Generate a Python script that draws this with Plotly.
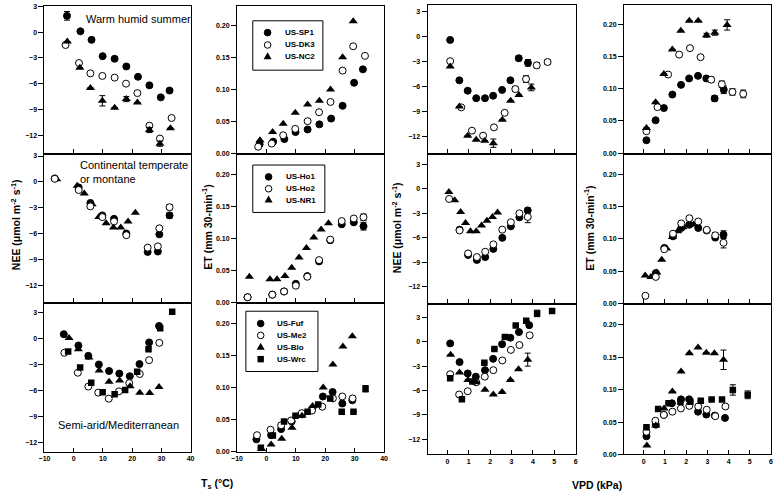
import plotly.graph_objects as go

# ---------------- data ----------------
# Row 1 - Warm humid summer : US-SP1 (filled circle), US-DK3 (open circle), US-NC2 (triangle)
sp1_ts = [-2.3, 2.3, 6.1, 9.9, 14.0, 18.0, 22.0, 25.9, 29.8, 32.8]
sp1_ts_nee = [1.9, 0.1, -0.9, -2.8, -3.1, -4.0, -5.2, -6.2, -7.6, -6.8]
sp1_ts_nee_err = [0.5, 0, 0, 0, 0, 0, 0, 0, 0, 0]
sp1_ts_et = [0.014, 0.018, 0.022, 0.033, 0.037, 0.045, 0.054, 0.074, 0.110, 0.131]
dk3_ts = [-2.8, 1.8, 5.7, 9.8, 14.0, 17.9, 21.8, 25.9, 29.5, 33.5]
dk3_ts_nee = [-1.5, -3.6, -4.8, -5.1, -5.3, -6.0, -7.1, -10.9, -12.4, -10.0]
dk3_ts_et = [0.010, 0.015, 0.028, 0.038, 0.050, 0.064, 0.080, 0.129, 0.167, 0.152]
nc2_ts = [-2.2, 2.1, 5.7, 9.8, 14.0, 18.0, 21.8, 25.9, 29.5, 33.1]
nc2_ts_nee = [-1.1, -4.15, -6.5, -8.0, -8.8, -7.8, -8.2, -11.4, -13.0, -11.2]
nc2_ts_nee_err = [0, 0, 0, 0.6, 0, 0.3, 0, 0.3, 0.3, 0]
nc2_ts_et = [0.020, 0.033, 0.046, 0.063, 0.076, 0.082, 0.0995, 0.150, 0.206, None]

sp1_vpd = [0.13, 0.56, 0.95, 1.35, 1.76, 2.14, 2.56, 2.95, 3.34, 3.77]
sp1_vpd_nee = [-0.4, -5.25, -6.5, -7.4, -7.4, -7.1, -6.4, -5.25, -2.6, -3.15]
sp1_vpd_nee_err = [0, 0, 0, 0, 0, 0, 0, 0, 0.3, 0.4]
sp1_vpd_et = [0.020, 0.051, 0.070, 0.091, 0.106, 0.116, 0.120, 0.116, 0.085, 0.0985]
sp1_vpd_et_err = [0, 0, 0, 0, 0, 0, 0, 0, 0.004, 0.006]
dk3_vpd = [0.13, 0.65, 1.15, 1.67, 2.18, 2.68, 3.18, 3.68, 4.18, 4.69]
dk3_vpd_nee = [-2.95, -8.5, -11.3, -11.9, -10.9, -9.15, -6.3, -5.1, -3.45, -3.05]
dk3_vpd_nee_err = [0, 0, 0, 0, 0, 0, 0.3, 0.4, 0.3, 0.3]
dk3_vpd_et = [0.034, 0.0715, 0.122, 0.153, 0.163, 0.149, 0.114, 0.107, 0.095, 0.092]
dk3_vpd_et_err = [0, 0, 0, 0, 0, 0, 0.004, 0.005, 0.005, 0.006]
nc2_vpd = [0.13, 0.56, 0.95, 1.35, 1.75, 2.15, 2.57, 2.96, 3.35, 3.93]
nc2_vpd_nee = [-3.6, -8.4, -11.9, -12.4, -12.5, -12.8, -10.0, -7.7, -7.0, -6.1]
nc2_vpd_nee_err = [0, 0, 0, 0, 0, 0.5, 0, 0, 0, 0.4]
nc2_vpd_et = [0.039, 0.079, 0.123, 0.161, 0.190, 0.2056, 0.2056, 0.183, 0.187, 0.199]
nc2_vpd_et_err = [0, 0, 0, 0, 0, 0, 0, 0.003, 0.004, 0.008]

# Row 2 - Continental temperate or montane : US-Ho1, US-Ho2, US-NR1
ho_ts_nee_x = [-6.5, 1.7, 5.7, 9.8, 13.8, 18.0, 25.3, 28.8, 29.3, 32.8]
ho1_ts_nee = [0.4, -0.65, -2.45, -3.9, -4.3, -6.0, -8.15, -8.1, -6.1, -3.9]
ho1_ts_nee_err = [0, 0, 0, 0, 0, 0, 0, 0, 0, 0.3]
ho2_ts_nee = [0.35, -0.95, -2.85, -4.1, -4.6, -6.2, -7.65, -7.5, -5.4, -2.95]
ho2_ts_nee_err = [0, 0, 0, 0, 0, 0, 0, 0, 0, 0.3]
ho_ts_et_x = [-6.4, 2.0, 6.0, 10.0, 13.9, 17.9, 21.7, 25.6, 29.7, 33.0]
ho1_ts_et = [0.008, 0.012, 0.017, 0.029, 0.041, 0.064, 0.097, 0.122, 0.125, 0.119]
ho1_ts_et_err = [0, 0, 0, 0, 0, 0, 0, 0, 0, 0.006]
ho2_ts_et = [0.008, 0.012, 0.017, 0.026, 0.040, 0.066, 0.098, 0.127, 0.131, 0.133]
ho2_ts_et_err = [0, 0, 0, 0, 0, 0, 0, 0, 0, 0.005]
nr1_ts = [-5.8, 1.2, 3.6, 6.3, 8.6, 11.1, 13.6, 16.1, 18.6, 21.1]
nr1_ts_nee = [0.3, -0.45, -1.35, -2.6, -4.1, -4.8, -5.3, -5.3, -4.6, -3.6]
nr1_ts_et = [0.040, 0.036, 0.036, 0.041, 0.054, 0.070, 0.085, 0.1015, 0.114, 0.1236]

ho1_vpd = [0.57, 0.97, 1.38, 1.77, 2.15, 2.57, 2.97, 3.37, 3.76]
ho1_vpd_nee = [-5.0, -8.1, -8.7, -8.35, -7.35, -6.0, -4.6, -3.5, -2.65]
ho1_vpd_nee_err = [0, 0, 0, 0, 0, 0, 0, 0, 0.3]
ho1_vpd_et = [0.047, 0.086, 0.104, 0.117, 0.122, 0.117, 0.113, 0.102, 0.1066]
ho1_vpd_et_err = [0, 0, 0, 0, 0, 0, 0, 0, 0.006]
ho2_vpd = [0.08, 0.57, 0.97, 1.38, 1.77, 2.15, 2.57, 2.97, 3.37, 3.76]
ho2_vpd_nee = [-1.25, -5.1, -7.9, -8.35, -7.7, -6.8, -5.0, -4.1, -3.0, -3.45]
ho2_vpd_nee_err = [0, 0, 0, 0, 0, 0, 0, 0, 0, 0.7]
ho2_vpd_et = [0.0117, 0.041, 0.084, 0.108, 0.124, 0.132, 0.127, 0.114, 0.1056, 0.094]
ho2_vpd_et_err = [0, 0, 0, 0, 0, 0, 0, 0, 0.004, 0.008]
nr1_vpd = [0.07, 0.34, 0.62, 0.85, 1.08, 1.35, 1.6, 1.85, 2.11, 2.35]
nr1_vpd_nee = [-0.4, -1.4, -2.85, -4.2, -5.2, -5.2, -4.5, -3.9, -3.45, -2.9]
nr1_vpd_et = [0.043, 0.041, 0.048, 0.0675, 0.085, 0.103, 0.112, 0.118, 0.122, 0.1223]

# Row 3 - Semi-arid/Mediterranean : US-Fuf, US-Me2, US-Blo, US-Wrc (square)
fuf_ts = [-3.4, 1.6, 5.0, 8.6, 12.1, 15.6, 19.2, 22.5, 25.8, 29.2]
fuf_ts_nee = [0.55, -0.75, -1.95, -2.95, -3.7, -4.0, -4.3, -2.9, -0.4, 1.5]
fuf_ts_et = [0.019, 0.0255, 0.035, 0.047, 0.058, 0.067, 0.086, 0.093, 0.075, 0.080]
me2_ts = [-3.2, 1.4, 5.0, 8.4, 12.0, 15.5, 19.0, 22.6, 25.8, 29.3]
me2_ts_nee = [-1.6, -3.9, -5.5, -6.2, -6.9, -6.05, -5.1, -4.05, -2.45, -0.45]
me2_ts_et = [0.0255, 0.034, 0.041, 0.0485, 0.060, 0.064, 0.070, 0.083, 0.086, 0.083]
blo_ts = [-1.6, 1.6, 5.2, 8.7, 12.1, 15.7, 19.3, 22.6, 26.0, 29.2]
blo_ts_nee = [0.1, -1.2, -2.15, -3.65, -4.95, -4.8, -5.45, -6.2, -6.25, -5.55]
blo_ts_et = [0.004, 0.011, 0.020, 0.037, 0.056, 0.071, 0.100, 0.136, 0.164, 0.180]
wrc_ts = [-1.9, 2.2, 6.0, 9.9, 14.0, 17.6, 21.7, 25.6, 29.6, 33.7]
wrc_ts_nee = [-1.45, -3.3, -5.05, -6.15, -6.4, -5.9, -3.8, -1.2, 1.25, 3.15]
wrc_ts_et = [0.006, 0.025, 0.047, 0.056, 0.062, 0.0735, 0.083, 0.062, 0.062, 0.098]
wrc_ts_et_err = [0, 0, 0, 0, 0, 0, 0, 0, 0, 0.005]

fuf_vpd = [0.13, 0.57, 0.95, 1.33, 1.76, 2.14, 2.56, 2.95, 3.35, 3.83]
fuf_vpd_nee = [-0.2, -2.5, -3.9, -4.3, -3.5, -2.1, -0.3, 0.5, 1.2, 2.05]
fuf_vpd_et = [0.028, 0.046, 0.061, 0.079, 0.085, 0.085, 0.066, 0.0615, 0.060, 0.0564]
me2_vpd = [0.13, 0.55, 0.95, 1.35, 1.75, 2.15, 2.57, 2.97, 3.37, 3.85]
me2_vpd_nee = [-4.0, -6.5, -6.1, -5.0, -4.3, -3.5, -2.3, -1.0, -0.4, 0.8]
me2_vpd_et = [0.035, 0.052, 0.061, 0.066, 0.071, 0.075, 0.074, 0.069, 0.059, 0.074]
blo_vpd = [0.15, 0.57, 0.96, 1.35, 1.76, 2.15, 2.56, 2.95, 3.33, 3.76]
blo_vpd_nee = [-1.6, -3.8, -4.7, -5.0, -5.9, -6.5, -6.2, -4.7, -3.4, -2.2]
blo_vpd_nee_err = [0, 0, 0, 0, 0, 0, 0, 0, 0, 0.8]
blo_vpd_et = [0.0138, 0.0446, 0.071, 0.097, 0.128, 0.156, 0.165, 0.157, 0.156, 0.146]
blo_vpd_et_err = [0, 0, 0, 0, 0, 0, 0, 0, 0, 0.015]
wrc_vpd = [0.13, 0.68, 1.17, 1.73, 2.2, 2.69, 3.2, 3.69, 4.2, 4.9]
wrc_vpd_nee = [-4.5, -7.1, -4.9, -2.6, -0.9, 0.6, 2.0, 2.6, 3.5, 3.8]
wrc_vpd_nee_err = [0, 0, 0, 0, 0, 0, 0, 0, 0.4, 0]
wrc_vpd_et = [0.042, 0.070, 0.079, 0.0815, 0.0815, 0.083, 0.0846, 0.0846, 0.0995, 0.092]
wrc_vpd_et_err = [0, 0, 0, 0, 0, 0, 0, 0, 0.008, 0.006]

ts_ticks = [-10, 0, 10, 20, 30, 40]
vpd_ticks = [0, 1, 2, 3, 4, 5, 6]
nee_ticks = [3, 0, -3, -6, -9, -12]
et_ticks = [0.0, 0.05, 0.10, 0.15, 0.20]

legend_sites = [["US-SP1", "US-DK3", "US-NC2"],
                ["US-Ho1", "US-Ho2", "US-NR1"],
                ["US-Fuf", "US-Me2", "US-Blo", "US-Wrc"]]
legend_symbols = [["filled", "open", "tri"],
                  ["filled", "open", "tri"],
                  ["filled", "open", "tri", "sq"]]

# ---------------- layout geometry (pixels) ----------------
W, H = 779, 497
col_px = [(39, 187), (234, 383), (427, 577), (626, 775)]
row_px = [[(3, 152), (154, 303), (305, 454)],      # left half (cols 1-2)
          [(2, 152), (154, 304), (306, 457)]]      # right half (cols 3-4)
nee_range = [[[-14.1, 3.05], [-14.0, 3.1], [-13.0, 4.0]],
             [[-14.0, 3.8], [-14.0, 4.1], [-13.9, 4.5]]]
et_range = [0, 0.23]
# legend boxes: (left, top, right, bottom), marker x, text x, row y's
legend_geom = [
    ((250, 18, 321, 68), 265, 281, [30, 42.5, 54.5]),
    ((250, 164, 323, 212), 266, 282, [176, 188, 199.5]),
    ((243, 312, 316, 373), 258, 273, [324.5, 336.5, 348.5, 360.5]),
]

FONT = "Liberation Sans, Arial, sans-serif"
STY = {
    "filled": dict(symbol="circle", color="black", size=7, line=dict(color="black", width=1)),
    "open": dict(symbol="circle", color="white", size=7, line=dict(color="black", width=1)),
    "tri": dict(symbol="triangle-up", color="black", size=8, line=dict(color="black", width=0)),
    "sq": dict(symbol="square", color="black", size=6.5, line=dict(color="black", width=0)),
}

fig = go.Figure()

def ax_id(r, c):
    return r * 4 + c + 1

def add(r, c, name, sty, x, y, err=None):
    n = ax_id(r, c)
    kw = {}
    if err is not None:
        kw["error_y"] = dict(type="data", array=err, visible=True, thickness=1, width=3, color="black")
    fig.add_trace(go.Scatter(
        x=x, y=y, mode="markers", name=name, marker=STY[sty],
        xaxis="x" if n == 1 else f"x{n}", yaxis="y" if n == 1 else f"y{n}",
        showlegend=False, **kw))

# Row 1
add(0, 0, "US-SP1", "filled", sp1_ts, sp1_ts_nee, sp1_ts_nee_err)
add(0, 0, "US-DK3", "open", dk3_ts, dk3_ts_nee)
add(0, 0, "US-NC2", "tri", nc2_ts, nc2_ts_nee, nc2_ts_nee_err)
add(0, 1, "US-SP1", "filled", sp1_ts, sp1_ts_et)
add(0, 1, "US-DK3", "open", dk3_ts, dk3_ts_et)
add(0, 1, "US-NC2", "tri", nc2_ts, nc2_ts_et)
add(0, 2, "US-SP1", "filled", sp1_vpd, sp1_vpd_nee, sp1_vpd_nee_err)
add(0, 2, "US-DK3", "open", dk3_vpd, dk3_vpd_nee, dk3_vpd_nee_err)
add(0, 2, "US-NC2", "tri", nc2_vpd, nc2_vpd_nee, nc2_vpd_nee_err)
add(0, 3, "US-SP1", "filled", sp1_vpd, sp1_vpd_et, sp1_vpd_et_err)
add(0, 3, "US-DK3", "open", dk3_vpd, dk3_vpd_et, dk3_vpd_et_err)
add(0, 3, "US-NC2", "tri", nc2_vpd, nc2_vpd_et, nc2_vpd_et_err)
# Row 2
add(1, 0, "US-NR1", "tri", nr1_ts, nr1_ts_nee)
add(1, 0, "US-Ho1", "filled", ho_ts_nee_x, ho1_ts_nee, ho1_ts_nee_err)
add(1, 0, "US-Ho2", "open", ho_ts_nee_x, ho2_ts_nee, ho2_ts_nee_err)
add(1, 1, "US-Ho1", "filled", ho_ts_et_x, ho1_ts_et, ho1_ts_et_err)
add(1, 1, "US-Ho2", "open", ho_ts_et_x, ho2_ts_et, ho2_ts_et_err)
add(1, 1, "US-NR1", "tri", nr1_ts, nr1_ts_et)
add(1, 2, "US-NR1", "tri", nr1_vpd, nr1_vpd_nee)
add(1, 2, "US-Ho1", "filled", ho1_vpd, ho1_vpd_nee, ho1_vpd_nee_err)
add(1, 2, "US-Ho2", "open", ho2_vpd, ho2_vpd_nee, ho2_vpd_nee_err)
add(1, 3, "US-NR1", "tri", nr1_vpd, nr1_vpd_et)
add(1, 3, "US-Ho1", "filled", ho1_vpd, ho1_vpd_et, ho1_vpd_et_err)
add(1, 3, "US-Ho2", "open", ho2_vpd, ho2_vpd_et, ho2_vpd_et_err)
# Row 3
add(2, 0, "US-Fuf", "filled", fuf_ts, fuf_ts_nee)
add(2, 0, "US-Me2", "open", me2_ts, me2_ts_nee)
add(2, 0, "US-Blo", "tri", blo_ts, blo_ts_nee)
add(2, 0, "US-Wrc", "sq", wrc_ts, wrc_ts_nee)
add(2, 1, "US-Fuf", "filled", fuf_ts, fuf_ts_et)
add(2, 1, "US-Me2", "open", me2_ts, me2_ts_et)
add(2, 1, "US-Blo", "tri", blo_ts, blo_ts_et)
add(2, 1, "US-Wrc", "sq", wrc_ts, wrc_ts_et, wrc_ts_et_err)
add(2, 2, "US-Fuf", "filled", fuf_vpd, fuf_vpd_nee)
add(2, 2, "US-Me2", "open", me2_vpd, me2_vpd_nee)
add(2, 2, "US-Blo", "tri", blo_vpd, blo_vpd_nee, blo_vpd_nee_err)
add(2, 2, "US-Wrc", "sq", wrc_vpd, wrc_vpd_nee, wrc_vpd_nee_err)
add(2, 3, "US-Fuf", "filled", fuf_vpd, fuf_vpd_et)
add(2, 3, "US-Me2", "open", me2_vpd, me2_vpd_et)
add(2, 3, "US-Blo", "tri", blo_vpd, blo_vpd_et, blo_vpd_et_err)
add(2, 3, "US-Wrc", "sq", wrc_vpd, wrc_vpd_et, wrc_vpd_et_err)

# ---------------- axes ----------------
tickfont = dict(family=FONT, size=7, color="black", weight="bold")
layout = {}
for r in range(3):
    for c in range(4):
        n = ax_id(r, c)
        half = 0 if c < 2 else 1
        x0, x1 = col_px[c]
        top, bot = row_px[half][r]
        sfx = "" if n == 1 else str(n)
        layout["xaxis" + sfx] = dict(
            domain=[x0 / W, x1 / W], anchor="y" + sfx,
            range=[-10, 40] if c < 2 else [-0.93, 6],
            tickvals=ts_ticks if c < 2 else vpd_ticks,
            ticks="inside", ticklen=4, tickwidth=1, tickcolor="black",
            showticklabels=(r == 2), tickfont=tickfont,
            showline=True, mirror=True, linecolor="black", linewidth=1,
            showgrid=False, zeroline=False, fixedrange=True)
        is_et = c in (1, 3)
        layout["yaxis" + sfx] = dict(
            domain=[1 - bot / H, 1 - top / H], anchor="x" + sfx,
            range=et_range if is_et else nee_range[half][r],
            tickvals=et_ticks if is_et else nee_ticks,
            tickformat=".2f" if is_et else "d",
            ticks="outside", ticklen=5, tickwidth=1, tickcolor="black",
            tickfont=tickfont,
            showline=True, mirror=True, linecolor="black", linewidth=1,
            showgrid=False, zeroline=False, fixedrange=True)

# ---------------- legends (boxes with marker keys) ----------------
shapes = []
annotations = []
leg_font = dict(family=FONT, size=8, color="black", weight="bold")
for (box, mx, tx, ys), names, syms in zip(legend_geom, legend_sites, legend_symbols):
    l, t, rgt, b = box
    shapes.append(dict(type="rect", xref="paper", yref="paper",
                       x0=l / W, x1=rgt / W, y0=1 - b / H, y1=1 - t / H,
                       line=dict(color="black", width=1), fillcolor="white", layer="above"))
    for name, sym, yy in zip(names, syms, ys):
        base = dict(xref="paper", yref="paper", xsizemode="pixel", ysizemode="pixel",
                    xanchor=mx / W, yanchor=1 - yy / H, layer="above",
                    line=dict(color="black", width=1))
        if sym in ("filled", "open"):
            shapes.append(dict(base, type="circle", x0=-3.3, x1=3.3, y0=-3.3, y1=3.3,
                               fillcolor="black" if sym == "filled" else "white"))
        elif sym == "tri":
            shapes.append(dict(base, type="path", path="M-4,-2.5 L4,-2.5 L0,4.5 Z",
                               fillcolor="black", line=dict(width=0)))
        else:
            shapes.append(dict(base, type="rect", x0=-3.2, x1=3.2, y0=-3.2, y1=3.2,
                               fillcolor="black", line=dict(width=0)))
        annotations.append(dict(text=name, x=tx / W, y=1 - yy / H, xanchor="left",
                                yanchor="middle", font=leg_font))

ann_font = dict(family=FONT, size=11, color="black")
title_font = dict(family=FONT, size=10.5, color="black", weight="bold")
annotations += [
    dict(text="Warm humid summer", x=79 / W, y=1 - 16 / H, xanchor="left", yanchor="middle", font=ann_font),
    dict(text="Continental temperate<br>or montane", x=73 / W, y=1 - 156 / H, xanchor="left", yanchor="top",
         align="left", font=ann_font),
    dict(text="Semi-arid/Mediterranean", x=51 / W, y=1 - 427 / H, xanchor="left", yanchor="middle", font=ann_font),
    dict(text="NEE (μmol m<sup>-2</sup> s<sup>-1</sup>)", x=9 / W, y=1 - 224 / H, textangle=-90,
         xanchor="center", yanchor="middle", font=title_font),
    dict(text="ET (mm 30-min<sup>-1</sup>)", x=203 / W, y=1 - 227 / H, textangle=-90,
         xanchor="center", yanchor="middle", font=title_font),
    dict(text="NEE (μmol m<sup>-2</sup> s<sup>-1</sup>)", x=395 / W, y=1 - 227 / H, textangle=-90,
         xanchor="center", yanchor="middle", font=title_font),
    dict(text="ET (mm 30-min<sup>-1</sup>)", x=590 / W, y=1 - 228 / H, textangle=-90,
         xanchor="center", yanchor="middle", font=title_font),
    dict(text="T<sub>s</sub> (°C)", x=214 / W, y=1 - 487 / H, xanchor="center", yanchor="middle", font=title_font),
    dict(text="VPD (kPa)", x=599 / W, y=1 - 488 / H, xanchor="center", yanchor="middle", font=title_font),
]
for a in annotations:
    a.update(xref="paper", yref="paper", showarrow=False)

fig.update_layout(
    width=W, height=H, margin=dict(l=0, r=0, t=0, b=0),
    paper_bgcolor="white", plot_bgcolor="white",
    font=dict(family=FONT, color="black"),
    showlegend=False,
    shapes=shapes, annotations=annotations,
    **layout)

# remove the browser's default 8px page margin so the figure sits at the window origin
fig.write_html("out.html",
               config={"displayModeBar": False, "staticPlot": True},
               post_script="document.body.style.margin='0';document.body.style.overflow='hidden';")
